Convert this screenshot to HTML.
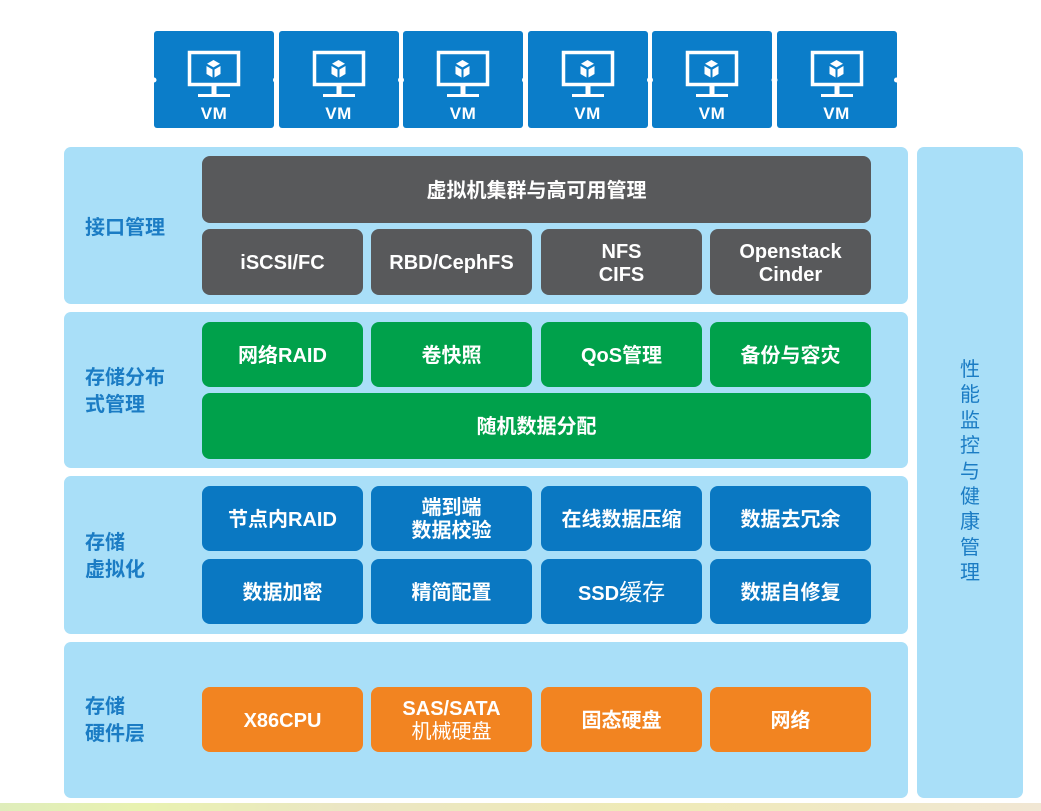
<!DOCTYPE html>
<html><head><meta charset="utf-8">
<style>
html,body{margin:0;padding:0;background:#fff;}
body{width:1041px;height:811px;position:relative;overflow:hidden;font-family:"Liberation Sans","Noto Sans CJK SC",sans-serif;}
.abs{position:absolute;}
.panel{position:absolute;background:#a9dff8;border-radius:7px;}
.lbl{position:absolute;left:85px;color:#1b7cc4;font-weight:bold;font-size:20px;line-height:27px;}
.box{position:absolute;box-sizing:border-box;padding-top:3px;border-radius:8px;color:#fff;font-weight:bold;font-size:20px;line-height:23px;display:flex;align-items:center;justify-content:center;text-align:center;}
.g{background:#58595b;}
.gr{background:#00a14b;}
.b{background:#0a78c2;}
.o{background:#f28421;}
.vm{position:absolute;top:31px;width:120px;height:97px;background:#0b7dc9;border-radius:3px;}
.vm span{position:absolute;left:0;right:0;top:73px;text-align:center;color:#fff;font-weight:bold;font-size:17px;line-height:20px;font-family:"Liberation Sans",sans-serif;letter-spacing:0.5px;}
.vt{position:absolute;left:960px;width:20px;color:#1b7cc4;font-size:20px;line-height:25.4px;top:358px;text-align:center;}
.n{font-weight:normal;}
</style></head><body>

<!-- VM boxes -->
<div class="vm" style="left:154px"><svg width="120" height="97" class="abs" style="left:0;top:0"><rect x="35.5" y="21.5" width="49" height="32" fill="none" stroke="#fff" stroke-width="3.5"/><rect x="57.5" y="55" width="5" height="8" fill="#fff"/><rect x="44" y="63" width="32" height="3" fill="#fff"/><polygon points="59.5,29 66,32.7 59.5,36.4 53,32.7" fill="#fff"/><polygon points="52.5,35 58.5,38.5 58.5,46.5 52.5,43" fill="#fff"/><polygon points="60.5,38.5 66.5,35 66.5,43 60.5,46.5" fill="#fff"/></svg><span>VM</span></div>
<div class="vm" style="left:278.5px"><svg width="120" height="97" class="abs" style="left:0;top:0"><rect x="35.5" y="21.5" width="49" height="32" fill="none" stroke="#fff" stroke-width="3.5"/><rect x="57.5" y="55" width="5" height="8" fill="#fff"/><rect x="44" y="63" width="32" height="3" fill="#fff"/><polygon points="59.5,29 66,32.7 59.5,36.4 53,32.7" fill="#fff"/><polygon points="52.5,35 58.5,38.5 58.5,46.5 52.5,43" fill="#fff"/><polygon points="60.5,38.5 66.5,35 66.5,43 60.5,46.5" fill="#fff"/></svg><span>VM</span></div>
<div class="vm" style="left:403px"><svg width="120" height="97" class="abs" style="left:0;top:0"><rect x="35.5" y="21.5" width="49" height="32" fill="none" stroke="#fff" stroke-width="3.5"/><rect x="57.5" y="55" width="5" height="8" fill="#fff"/><rect x="44" y="63" width="32" height="3" fill="#fff"/><polygon points="59.5,29 66,32.7 59.5,36.4 53,32.7" fill="#fff"/><polygon points="52.5,35 58.5,38.5 58.5,46.5 52.5,43" fill="#fff"/><polygon points="60.5,38.5 66.5,35 66.5,43 60.5,46.5" fill="#fff"/></svg><span>VM</span></div>
<div class="vm" style="left:527.5px"><svg width="120" height="97" class="abs" style="left:0;top:0"><rect x="35.5" y="21.5" width="49" height="32" fill="none" stroke="#fff" stroke-width="3.5"/><rect x="57.5" y="55" width="5" height="8" fill="#fff"/><rect x="44" y="63" width="32" height="3" fill="#fff"/><polygon points="59.5,29 66,32.7 59.5,36.4 53,32.7" fill="#fff"/><polygon points="52.5,35 58.5,38.5 58.5,46.5 52.5,43" fill="#fff"/><polygon points="60.5,38.5 66.5,35 66.5,43 60.5,46.5" fill="#fff"/></svg><span>VM</span></div>
<div class="vm" style="left:652px"><svg width="120" height="97" class="abs" style="left:0;top:0"><rect x="35.5" y="21.5" width="49" height="32" fill="none" stroke="#fff" stroke-width="3.5"/><rect x="57.5" y="55" width="5" height="8" fill="#fff"/><rect x="44" y="63" width="32" height="3" fill="#fff"/><polygon points="59.5,29 66,32.7 59.5,36.4 53,32.7" fill="#fff"/><polygon points="52.5,35 58.5,38.5 58.5,46.5 52.5,43" fill="#fff"/><polygon points="60.5,38.5 66.5,35 66.5,43 60.5,46.5" fill="#fff"/></svg><span>VM</span></div>
<div class="vm" style="left:776.5px"><svg width="120" height="97" class="abs" style="left:0;top:0"><rect x="35.5" y="21.5" width="49" height="32" fill="none" stroke="#fff" stroke-width="3.5"/><rect x="57.5" y="55" width="5" height="8" fill="#fff"/><rect x="44" y="63" width="32" height="3" fill="#fff"/><polygon points="59.5,29 66,32.7 59.5,36.4 53,32.7" fill="#fff"/><polygon points="52.5,35 58.5,38.5 58.5,46.5 52.5,43" fill="#fff"/><polygon points="60.5,38.5 66.5,35 66.5,43 60.5,46.5" fill="#fff"/></svg><span>VM</span></div>
<!-- connector nubs -->
<svg class="abs" style="left:0;top:0" width="1041" height="140">
<g fill="#fff">
<circle cx="154" cy="80" r="2.5"/><circle cx="276" cy="80" r="3"/><circle cx="401" cy="80" r="3"/><circle cx="525" cy="80" r="3"/><circle cx="650" cy="80" r="3"/><circle cx="774.5" cy="80" r="3"/><circle cx="896.5" cy="80" r="2.5"/>
</g></svg>

<!-- panels -->
<div class="panel" style="left:64px;top:147px;width:844px;height:157px"></div>
<div class="panel" style="left:64px;top:312px;width:844px;height:156px"></div>
<div class="panel" style="left:64px;top:476px;width:844px;height:158px"></div>
<div class="panel" style="left:64px;top:642px;width:844px;height:156px"></div>
<div class="panel" style="left:917px;top:147px;width:106px;height:651px"></div>

<!-- bottom strip -->
<div class="abs" style="left:0;top:803px;width:1041px;height:8px;background:linear-gradient(90deg,#dfedbb 0%,#e9f2b0 14%,#ebe6c4 33%,#efeab6 62%,#f1e7d4 100%)"></div>

<!-- labels -->
<div class="lbl" style="top:215px">接口管理</div>
<div class="lbl" style="top:365px">存储分布<br>式管理</div>
<div class="lbl" style="top:530px">存储<br>虚拟化</div>
<div class="lbl" style="top:694px">存储<br>硬件层</div>

<!-- layer 1 -->
<div class="box g" style="left:202px;top:156px;width:669px;height:67px">虚拟机集群与高可用管理</div>
<div class="box g" style="left:202px;top:229px;width:161px;height:66px">iSCSI/FC</div>
<div class="box g" style="left:371px;top:229px;width:161px;height:66px">RBD/CephFS</div>
<div class="box g" style="left:541px;top:229px;width:161px;height:66px">NFS<br>CIFS</div>
<div class="box g" style="left:710px;top:229px;width:161px;height:66px">Openstack<br>Cinder</div>

<!-- layer 2 -->
<div class="box gr" style="left:202px;top:322px;width:161px;height:65px">网络RAID</div>
<div class="box gr" style="left:371px;top:322px;width:161px;height:65px">卷快照</div>
<div class="box gr" style="left:541px;top:322px;width:161px;height:65px">QoS管理</div>
<div class="box gr" style="left:710px;top:322px;width:161px;height:65px">备份与容灾</div>
<div class="box gr" style="left:202px;top:393px;width:669px;height:66px">随机数据分配</div>

<!-- layer 3 -->
<div class="box b" style="left:202px;top:486px;width:161px;height:65px">节点内RAID</div>
<div class="box b" style="left:371px;top:486px;width:161px;height:65px">端到端<br>数据校验</div>
<div class="box b" style="left:541px;top:486px;width:161px;height:65px">在线数据压缩</div>
<div class="box b" style="left:710px;top:486px;width:161px;height:65px">数据去冗余</div>
<div class="box b" style="left:202px;top:559px;width:161px;height:65px">数据加密</div>
<div class="box b" style="left:371px;top:559px;width:161px;height:65px">精简配置</div>
<div class="box b" style="left:541px;top:559px;width:161px;height:65px"><span>SSD<span class="n" style="font-size:23px">缓存</span></span></div>
<div class="box b" style="left:710px;top:559px;width:161px;height:65px">数据自修复</div>

<!-- layer 4 -->
<div class="box o" style="left:202px;top:687px;width:161px;height:65px">X86CPU</div>
<div class="box o" style="left:371px;top:687px;width:161px;height:65px"><span>SAS/SATA<br><span class="n">机械硬盘</span></span></div>
<div class="box o" style="left:541px;top:687px;width:161px;height:65px">固态硬盘</div>
<div class="box o" style="left:710px;top:687px;width:161px;height:65px">网络</div>

<!-- right vertical text -->
<div class="vt">性<br>能<br>监<br>控<br>与<br>健<br>康<br>管<br>理</div>

</body></html>
